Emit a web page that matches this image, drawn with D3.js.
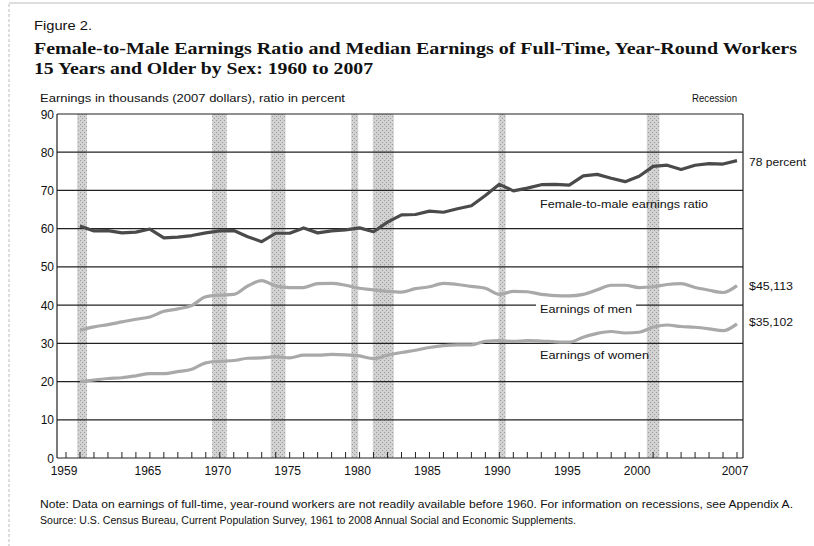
<!DOCTYPE html>
<html><head><meta charset="utf-8">
<script src="https://cdn.jsdelivr.net/npm/d3@7"></script>
<style>
html,body{margin:0;padding:0;background:#fff;}
svg{display:block;}
text{font-family:"Liberation Sans","DejaVu Sans",sans-serif;fill:#111;}
</style></head>
<body><svg id="c" width="814" height="546"></svg>
<script>
// ---- data ----
const years = d3.range(1960, 2008);
const ratio = [60.7,59.4,59.5,58.9,59.1,59.9,57.6,57.8,58.2,58.9,59.4,59.5,57.9,56.6,58.8,58.8,60.2,58.9,59.4,59.7,60.2,59.2,61.7,63.6,63.7,64.6,64.3,65.2,66.0,68.7,71.6,69.9,70.6,71.5,71.6,71.4,73.8,74.2,73.2,72.3,73.7,76.3,76.6,75.5,76.6,77.0,76.9,77.8];
const menEarnings = [33.4,34.3,34.9,35.6,36.3,36.9,38.4,39.0,39.9,42.2,42.6,42.8,45.0,46.4,45.0,44.6,44.6,45.6,45.7,45.2,44.4,44.0,43.6,43.4,44.3,44.8,45.7,45.4,44.9,44.4,42.8,43.6,43.5,42.8,42.5,42.4,42.8,44.0,45.2,45.2,44.6,44.8,45.4,45.6,44.6,43.9,43.3,45.1];
const womenEarnings = [20.0,20.4,20.8,21.0,21.5,22.1,22.1,22.6,23.2,24.9,25.3,25.5,26.1,26.2,26.5,26.2,26.9,26.9,27.1,27.0,26.7,26.0,26.9,27.6,28.2,28.9,29.4,29.6,29.6,30.5,30.7,30.5,30.7,30.6,30.4,30.3,31.6,32.6,33.1,32.7,32.9,34.2,34.8,34.4,34.2,33.8,33.3,35.1];
const recessionStart = [1959.8,1969.45,1973.65,1979.4,1980.95,1989.95,2000.55];
const recessionEnd   = [1960.5,1970.5,1974.7,1979.9,1982.45,1990.45,2001.45];
const yTicks = [0,10,20,30,40,50,60,70,80,90];
const xTickLabels = [1959,1965,1970,1975,1980,1985,1990,1995,2000,2007];
const endLabels = ["78 percent","$45,113","$35,102"];
const seriesNames = ["Female-to-male earnings ratio","Earnings of men","Earnings of women"];

// ---- layout ----
const svg = d3.select("#c");
const plotL = 57, plotR = 743;
const x = d3.scaleLinear().domain([1959, 2007]).range([66, 737]);
const y = d3.scaleLinear().domain([0, 90]).range([458, 114]);

// stipple pattern for recession bars
const defs = svg.append("defs");
const pat = defs.append("pattern").attr("id","stip").attr("patternUnits","userSpaceOnUse").attr("width",4).attr("height",4);
pat.append("rect").attr("width",4).attr("height",4).attr("fill","#d2d2d2");
pat.append("rect").attr("x",0).attr("y",0).attr("width",1).attr("height",1).attr("fill","#9a9a9a");
pat.append("rect").attr("x",2).attr("y",2).attr("width",1).attr("height",1).attr("fill","#9a9a9a");

// frame
svg.append("line").attr("x1",9).attr("x2",9).attr("y1",4).attr("y2",546).attr("stroke","#bbb").attr("stroke-dasharray","3,2");
svg.append("line").attr("x1",9).attr("x2",814).attr("y1",3).attr("y2",3).attr("stroke","#bbb");

function txt(s, xx, yy, size, opts={}) {
  const t = svg.append("text").attr("x",xx).attr("y",yy).style("font-size",size+"px").text(s);
  if (opts.anchor) t.attr("text-anchor",opts.anchor);
  if (opts.len) t.attr("textLength",opts.len).attr("lengthAdjust","spacingAndGlyphs");
  if (opts.bold) t.style("font-weight","bold");
  if (opts.family) t.style("font-family",opts.family);
  return t;
}

// titles
txt("Figure 2.", 34, 30, 12, {len:58});
txt("Female-to-Male Earnings Ratio and Median Earnings of Full-Time, Year-Round Workers", 34, 54, 16, {len:763, bold:true, family:"'Liberation Serif','DejaVu Serif',serif"});
txt("15 Years and Older by Sex:  1960 to 2007", 34, 74, 16, {len:339, bold:true, family:"'Liberation Serif','DejaVu Serif',serif"});
txt("Earnings in thousands (2007 dollars), ratio in percent", 40, 102, 11.5, {len:305});
txt("Recession", 692, 102, 11.5, {len:45});

// recession bars
svg.append("g").selectAll("rect").data(recessionStart).join("rect")
  .attr("x", (d,i)=>x(d)).attr("width",(d,i)=>x(recessionEnd[i])-x(d))
  .attr("y", y(90)).attr("height", y(0)-y(90))
  .attr("fill","url(#stip)");

// gridlines
svg.append("g").selectAll("line").data(yTicks).join("line")
  .attr("x1",plotL).attr("x2",plotR).attr("y1",d=>y(d)).attr("y2",d=>y(d))
  .attr("stroke","#222").attr("stroke-width",1.2);
// y axis & right border
svg.append("line").attr("x1",plotL).attr("x2",plotL).attr("y1",y(90)).attr("y2",y(0)).attr("stroke","#222").attr("stroke-width",1.2);
svg.append("line").attr("x1",plotR).attr("x2",plotR).attr("y1",y(90)).attr("y2",y(0)).attr("stroke","#222").attr("stroke-width",1.2);

// y tick labels
svg.append("g").selectAll("text").data(yTicks).join("text")
  .attr("x",54).attr("y",d=>y(d)+4.5).attr("text-anchor","end")
  .style("font-size","12px").text(d=>d);

// x ticks (every year)
svg.append("g").selectAll("line").data(d3.range(1959,2008)).join("line")
  .attr("x1",d=>x(d)).attr("x2",d=>x(d)).attr("y1",y(0)).attr("y2",y(0)-6)
  .attr("stroke","#222").attr("stroke-width",1);
svg.append("g").selectAll("text").data(xTickLabels).join("text")
  .attr("x",d=>x(d)-2).attr("y",475).attr("text-anchor","middle")
  .style("font-size","12px").text(d=>d);

// series
const mk = (vals, curve) => d3.line().x((d,i)=>x(years[i])).y(d=>y(d)).curve(curve)(vals);
svg.append("path").attr("d",mk(menEarnings,d3.curveMonotoneX)).attr("fill","none").attr("stroke","#a9a9a9").attr("stroke-width",3.2);
svg.append("path").attr("d",mk(womenEarnings,d3.curveMonotoneX)).attr("fill","none").attr("stroke","#a9a9a9").attr("stroke-width",3.2);
svg.append("path").attr("d",mk(ratio,d3.curveLinear)).attr("fill","none").attr("stroke","#4a4a4a").attr("stroke-width",3.2).attr("stroke-linejoin","round");

// series labels
svg.append("rect").attr("x",536).attr("y",y(40)-7).attr("width",100).attr("height",14).attr("fill","#fff");
txt(seriesNames[0], 540, 208, 11.5, {len:168});
txt(seriesNames[1], 540, 313, 11.5, {len:92});
txt(seriesNames[2], 540, 359, 11.5, {len:109});

// end labels
const endVals = [ratio[ratio.length-1], menEarnings[menEarnings.length-1], womenEarnings[womenEarnings.length-1]];
const endDy = [1, 0, -2];
const endLen = [57, 44, 44];
endLabels.forEach((s,i)=> txt(s, 749, y(endVals[i])+4+endDy[i], 11.5, {len:endLen[i]}));

// notes
txt("Note:  Data on earnings of full-time, year-round workers are not readily available before 1960. For information on recessions, see Appendix A.", 40, 508, 10, {len:753});
txt("Source:  U.S. Census Bureau, Current Population Survey, 1961 to 2008 Annual Social and Economic Supplements.", 40, 524, 10, {len:536});
</script></body></html>
